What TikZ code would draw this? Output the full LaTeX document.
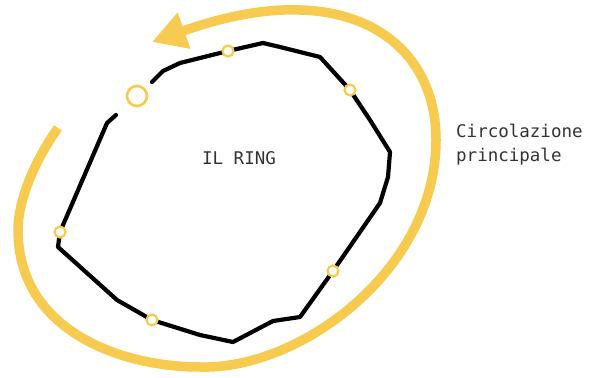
\documentclass[tikz,border=0pt]{standalone}
\usepackage{fontspec}
\setmonofont{DejaVu Sans Mono}
\usetikzlibrary{arrows.meta}
\definecolor{ringyellow}{HTML}{F6CB4F}
\definecolor{txtgray}{HTML}{333333}
\tikzset{
  ringline/.style={line width=4.2pt, black, line join=round, line cap=round},
  stopdot/.style={circle, draw=ringyellow, fill=white, line width=2.2pt, minimum size=11pt, inner sep=0pt},
  bigstop/.style={circle, draw=ringyellow, fill=white, line width=2.6pt, minimum size=20pt, inner sep=0pt},
  flow/.style={draw=ringyellow, line width=9.5pt, line cap=butt},
  lbl/.style={font=\ttfamily\fontsize{17.5}{24}\selectfont, text=txtgray, inner sep=0pt}
}
\begin{document}
\begin{tikzpicture}[x=1pt,y=-1pt]
\useasboundingbox (0,0) rectangle (596,377);
% ring coordinates
\coordinate (s1) at (152,82);
\coordinate (p1) at (163,71);
\coordinate (p2) at (180,63);
\coordinate (p3) at (263,43);
\coordinate (p4) at (280,47);
\coordinate (p5) at (320,57);
\coordinate (p6) at (370,120);
\coordinate (p7) at (390,152);
\coordinate (p8) at (388,177);
\coordinate (p9) at (380,203);
\coordinate (p10) at (300,317);
\coordinate (p11) at (273,321);
\coordinate (p12) at (233,342);
\coordinate (p13) at (200,335);
\coordinate (p14) at (117,300);
\coordinate (p15) at (58,247);
\coordinate (p16) at (107,123);
\coordinate (e1) at (116,115);
% stops
\coordinate (c1) at (228,51);
\coordinate (c2) at (350,90);
\coordinate (c3) at (333,271);
\coordinate (c4) at (152,320);
\coordinate (c5) at (60,232);
% ring line
\draw[ringline] (s1) -- (p1) -- (p2) -- (c1) -- (p3) -- (p4) -- (p5) -- (c2) -- (p6) -- (p7) -- (p8) -- (p9) -- (c3) -- (p10) -- (p11) -- (p12) -- (p13) -- (c4) -- (p14) -- (p15) -- (c5) -- (p16) -- (e1);
\node[stopdot] (n1) at (c1) {};
\node[stopdot] (n2) at (c2) {};
\node[stopdot] (n3) at (c3) {};
\node[stopdot] (n4) at (c4) {};
\node[stopdot] (n5) at (c5) {};
\node[bigstop] (big) at (137,96) {};
% main circulation arrow
\coordinate (a0) at (58,128);
\coordinate (a1) at (18,230);
\coordinate (a2) at (200,367);
\coordinate (a3) at (436,140);
\coordinate (a4) at (300,10);
\coordinate (a5) at (152,42);
\draw[flow, -{Triangle[length=34pt,width=36pt]}]
  (a0) .. controls (35,160) and (18,200) .. (a1)
       .. controls (18,330) and (120,367) .. (a2)
       .. controls (300,370) and (436,270) .. (a3)
       .. controls (436,60) and (380,12) .. (a4)
       .. controls (250,8) and (200,25) .. (a5);
% labels
\node[lbl] (ring) at (239,158) {IL RING};
\node[lbl, anchor=west, align=left] (circ) at (456,145) {Circolazione\\principale};
\end{tikzpicture}
\end{document}
